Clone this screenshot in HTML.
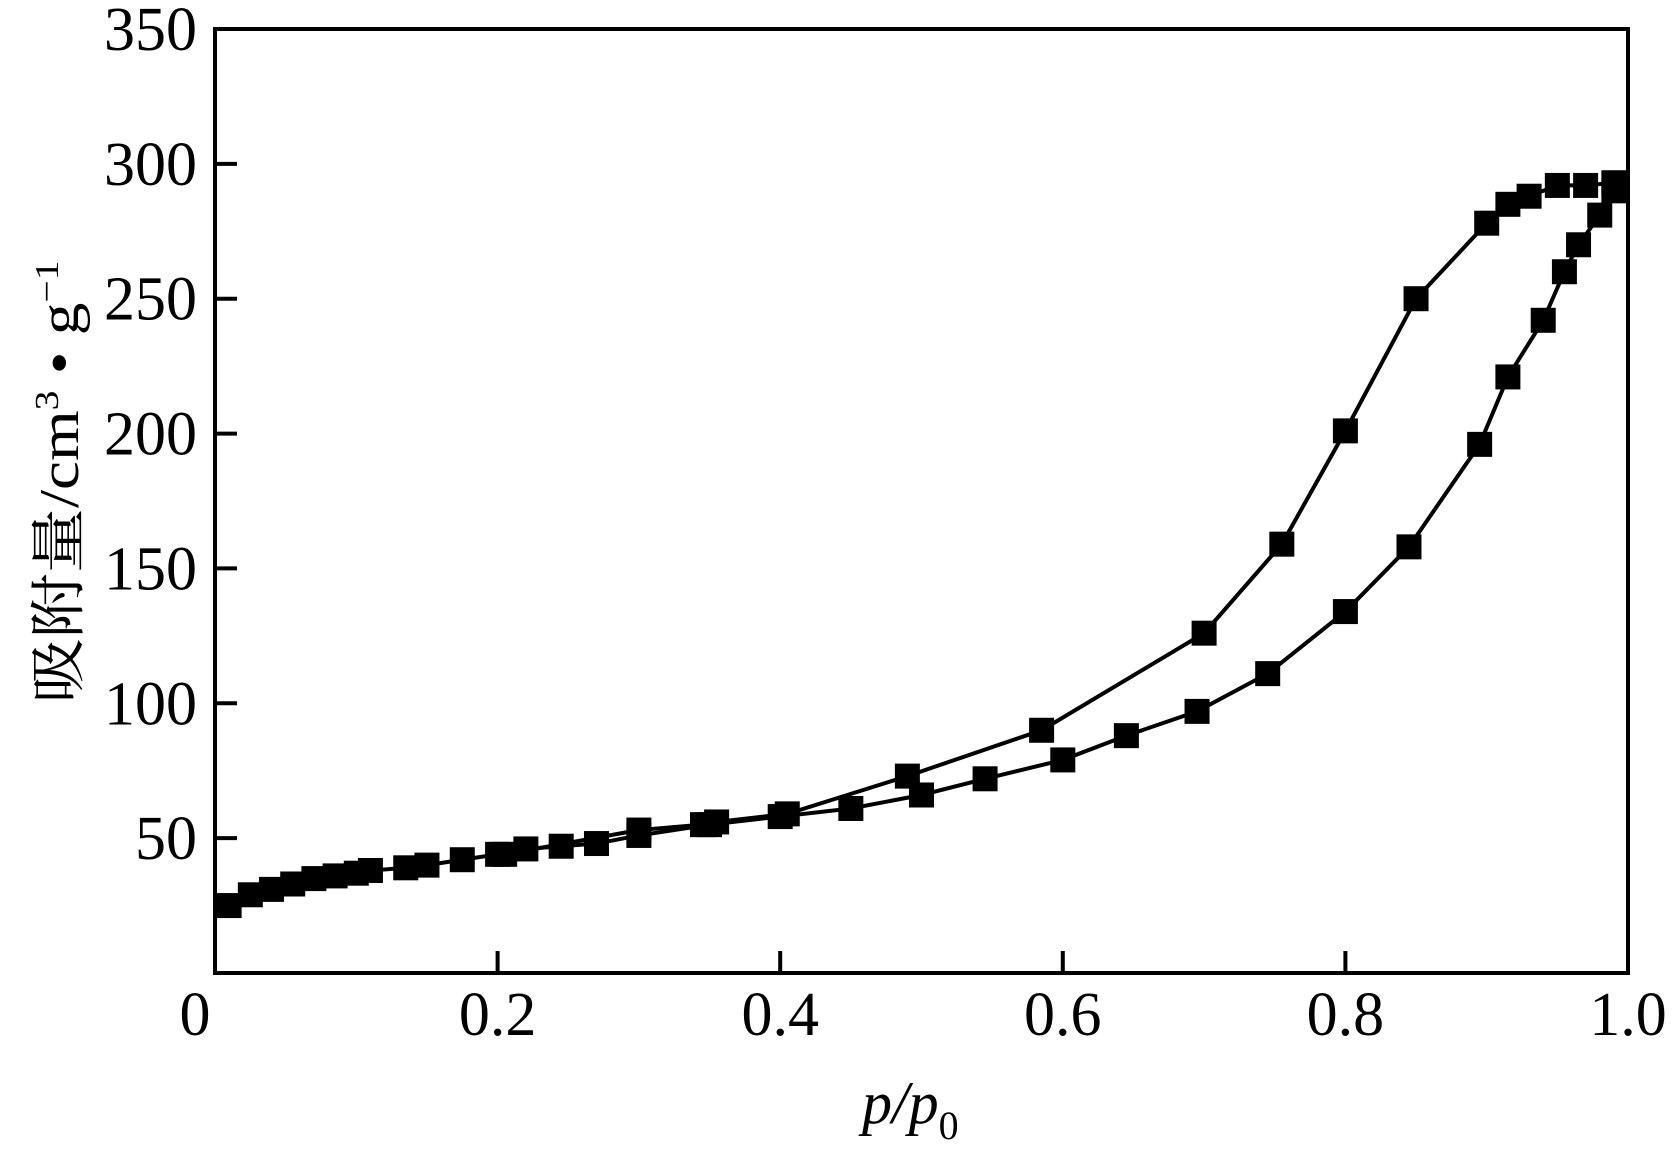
<!DOCTYPE html>
<html><head><meta charset="utf-8"><style>
html,body{margin:0;padding:0;background:#fff;}
svg{display:block;}
text{font-family:"Liberation Serif","Noto Serif CJK SC",serif;fill:#000;}
</style></head>
<body>
<svg id="chart" width="1677" height="1151" viewBox="0 0 1677 1151" xmlns="http://www.w3.org/2000/svg">
<g id="plot"></g>
<text transform="translate(78,482) rotate(-90)" text-anchor="middle" font-size="56" textLength="443" lengthAdjust="spacingAndGlyphs">吸附量/cm<tspan font-size="34" dy="-20">3</tspan><tspan dy="20"> • g</tspan><tspan font-size="34" dy="-20">−1</tspan></text>
<text x="862" y="1123" font-size="60" font-style="italic">p/p<tspan font-style="normal" font-size="40" dy="16">0</tspan></text>
</svg>
<script>
const xTicks = [0, 0.2, 0.4, 0.6, 0.8, 1.0];
const xTickLabels = ["0", "0.2", "0.4", "0.6", "0.8", "1.0"];
const yTicks = [50, 100, 150, 200, 250, 300, 350];
const yTickLabels = ["50", "100", "150", "200", "250", "300", "350"];
const adsX = [0.01,0.025,0.04,0.055,0.07,0.085,0.1,0.11,0.135,0.15,0.175,0.2,0.22,0.245,0.27,0.3,0.35,0.4,0.45,0.5,0.545,0.6,0.645,0.695,0.745,0.8,0.845,0.895,0.915,0.94,0.955,0.965,0.98,0.99];
const adsY = [25,29,31,33,35,36,37,38,39,40,42,44,46,47,48,51,55,58,61,66,72,79,88,97,111,134,158,196,221,242,260,270,281,290];
const desX = [0.99,0.97,0.95,0.93,0.915,0.9,0.85,0.8,0.755,0.7,0.585,0.49,0.405,0.355,0.345,0.3,0.205];
const desY = [293,292,292,288,285,278,250,201,159,126,90,73,59,56,55,53,44];

const L=215, R=1628, T=29, B=973;
const sx = v => L + v*(R-L);
const sy = v => B - v/350*(B-T);
const NS="http://www.w3.org/2000/svg";
const g=document.getElementById('plot');
function mk(tag, attrs){const e=document.createElementNS(NS,tag);for(const k in attrs)e.setAttribute(k,attrs[k]);g.appendChild(e);return e;}

xTicks.forEach((v,i)=>{
  const t=mk('line',{x1:sx(v),x2:sx(v),y1:B,y2:B-22,stroke:'#000','stroke-width':4});
  
  
  const lb=mk('text',{x:sx(v)+(i===0?-20:0),y:1035,'font-size':62,'text-anchor':'middle'});
  lb.textContent=xTickLabels[i];
  
  
});
yTicks.forEach((v,i)=>{
  const t=mk('line',{x1:L,x2:L+22,y1:sy(v),y2:sy(v),stroke:'#000','stroke-width':4});
  
  
  const lb=mk('text',{x:197,y:sy(v)+21,'font-size':62,'text-anchor':'end'});
  lb.textContent=yTickLabels[i];
  
  
});
const frame=mk('rect',{x:L,y:T,width:R-L,height:B-T,fill:'none',stroke:'#000','stroke-width':4});



function series(xs,ys,name){
  const pts=xs.map((x,i)=>sx(x)+','+sy(ys[i])).join(' ');
  const pl=mk('polyline',{points:pts,fill:'none',stroke:'#000','stroke-width':4});
  
  
  xs.forEach((x,i)=>{
    const m=mk('rect',{x:sx(x)-12.5,y:sy(ys[i])-12.5,width:25,height:25,fill:'#000'});
    
    
  });
}
series(adsX,adsY,'adsorption');
series(desX,desY,'desorption');
</script>
</body></html>
